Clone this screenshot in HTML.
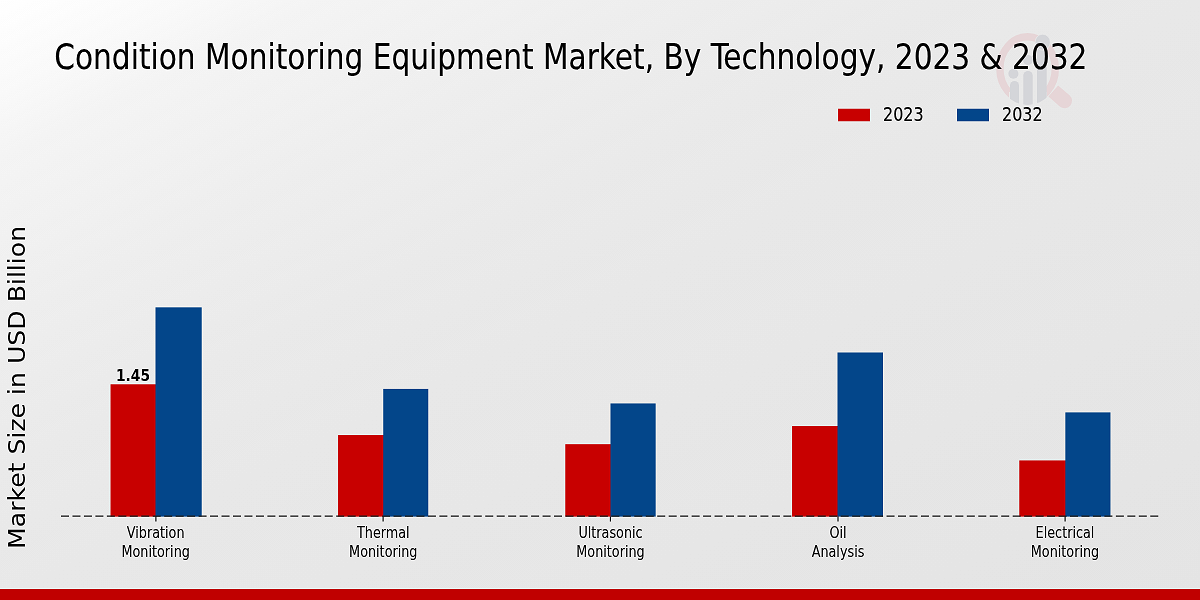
<!DOCTYPE html>
<html lang="en">
<head>
<meta charset="utf-8">
<title>Condition Monitoring Equipment Market, By Technology, 2023 &amp; 2032</title>
<style>
html,body{margin:0;padding:0;}
body{width:1200px;height:600px;overflow:hidden;background:#e6e6e6;}
svg{display:block;}
text{font-family:"DejaVu Sans Condensed","DejaVu Sans","Liberation Sans",sans-serif;font-stretch:condensed;fill:#000;}
.t{font-size:34.7px;stroke:#000;stroke-width:0.1px;}
.lg{font-size:19.8px;stroke:#000;stroke-width:0.1px;}
.tk{font-size:15.5px;text-anchor:middle;}
.yl{font-family:"DejaVu Sans","Liberation Sans",sans-serif;font-stretch:normal;font-size:25.15px;text-anchor:middle;}
.v{font-size:15.3px;font-weight:bold;text-anchor:middle;}
</style>
</head>
<body>
<svg width="1200" height="600" viewBox="0 0 1200 600">
<defs>
<filter id="sh" x="0" y="0" width="1200" height="600" filterUnits="userSpaceOnUse" color-interpolation-filters="sRGB">
<feConvolveMatrix order="3" kernelMatrix="0 -0.13 0 -0.13 1.52 -0.13 0 -0.13 0" divisor="1" edgeMode="duplicate" preserveAlpha="true"/>
</filter>
<linearGradient id="bg" x1="0" y1="0" x2="1" y2="1">
<stop offset="0" stop-color="#ffffff"/>
<stop offset="0.04" stop-color="#fcfcfc"/>
<stop offset="0.08" stop-color="#f9f9f9"/>
<stop offset="0.13" stop-color="#f4f4f4"/>
<stop offset="0.2" stop-color="#f1f1f1"/>
<stop offset="0.267" stop-color="#eeeeee"/>
<stop offset="0.39" stop-color="#eaeaea"/>
<stop offset="0.5" stop-color="#e8e8e8"/>
<stop offset="0.62" stop-color="#e7e7e7"/>
<stop offset="1" stop-color="#e4e4e4"/>
</linearGradient>
</defs>
<g filter="url(#sh)">
<rect width="1200" height="600" fill="url(#bg)"/>
<g id="wm">
<clipPath id="wc"><ellipse cx="1027.6" cy="69.1" rx="31.4" ry="36"/></clipPath>
<clipPath id="wr"><path d="M980 20H1080V120H1047V92H1009V120H980Z"/></clipPath>
<ellipse cx="1027.6" cy="68.7" rx="27.7" ry="32" fill="none" stroke="#e6d5d7" stroke-width="7.4" clip-path="url(#wr)"/>
<path d="M0 -7.4L15 -7.4A7.4 7.4 0 0 1 15 7.4L0 7.4Z" transform="translate(1053.3 91) rotate(41)" fill="#e6d5d7"/>
<g fill="#d4d5d9">
<g clip-path="url(#wc)">
<rect x="1037" y="47" width="9.7" height="70" rx="4.8"/>
<rect x="1023.3" y="70.9" width="9.4" height="50" rx="4.7"/>
<rect x="1010" y="80.9" width="9" height="40" rx="4.5"/>
</g>
<ellipse cx="1042.7" cy="42.2" rx="7.6" ry="8" stroke="#e9e9e9" stroke-width="0.8"/>
<circle cx="1028" cy="60" r="5"/>
<circle cx="1013.4" cy="73.7" r="5"/>
</g>
</g>
<text class="t" transform="translate(54.3 68.7) scale(0.949 1)">Condition Monitoring Equipment Market, By Technology, 2023 &amp; 2032</text>
<rect x="838" y="108.75" width="32" height="12.5" fill="#c80000"/>
<text class="lg" transform="translate(883 120.7) scale(0.896 1)">2023</text>
<rect x="957" y="108.75" width="32" height="12.5" fill="#03468a"/>
<text class="lg" transform="translate(1002 120.7) scale(0.896 1)">2032</text>
<text class="yl" transform="translate(24.9 387.4) rotate(-90) scale(1 0.915)">Market Size in USD Billion</text>
<g>
<rect x="110.55" y="384.30" width="45.95" height="132.30" fill="#c80000"/>
<rect x="155.50" y="307.35" width="46.20" height="209.25" fill="#03468a"/>
<rect x="337.95" y="435.00" width="46.30" height="81.60" fill="#c80000"/>
<rect x="383.25" y="388.90" width="45.00" height="127.70" fill="#03468a"/>
<rect x="565.30" y="444.20" width="46.20" height="72.40" fill="#c80000"/>
<rect x="610.50" y="403.45" width="45.15" height="113.15" fill="#03468a"/>
<rect x="792.00" y="426.00" width="46.50" height="90.60" fill="#c80000"/>
<rect x="837.50" y="352.50" width="45.50" height="164.10" fill="#03468a"/>
<rect x="1019.30" y="460.45" width="47.05" height="56.15" fill="#c80000"/>
<rect x="1065.35" y="412.40" width="45.10" height="104.20" fill="#03468a"/>
</g>
<line x1="61" y1="516.1" x2="1158.4" y2="516.1" stroke="#262626" stroke-width="1.05" stroke-dasharray="8 3.466"/>
<g stroke="#111" stroke-width="1.1">
<line x1="155.9" y1="516.5" x2="155.9" y2="521.6"/>
<line x1="383.1" y1="516.5" x2="383.1" y2="521.6"/>
<line x1="610.4" y1="516.5" x2="610.4" y2="521.6"/>
<line x1="838" y1="516.5" x2="838" y2="521.6"/>
<line x1="1065.1" y1="516.5" x2="1065.1" y2="521.6"/>
</g>
<text class="v" transform="translate(133 380.7) scale(1 1)">1.45</text>
<g class="tk">
<text transform="translate(155.7 537.7) scale(0.918 1)">Vibration</text><text transform="translate(155.7 556.7) scale(0.918 1)">Monitoring</text>
<text transform="translate(383.3 537.7) scale(0.918 1)">Thermal</text><text transform="translate(383.3 556.7) scale(0.918 1)">Monitoring</text>
<text transform="translate(610.5 537.7) scale(0.918 1)">Ultrasonic</text><text transform="translate(610.5 556.7) scale(0.918 1)">Monitoring</text>
<text transform="translate(838 537.7) scale(0.918 1)">Oil</text><text transform="translate(838 556.7) scale(0.918 1)">Analysis</text>
<text transform="translate(1065 537.7) scale(0.918 1)">Electrical</text><text transform="translate(1065 556.7) scale(0.918 1)">Monitoring</text>
</g>
<rect x="0" y="589" width="1200" height="11" fill="#c00000"/>
</g>
</svg>
</body>
</html>
